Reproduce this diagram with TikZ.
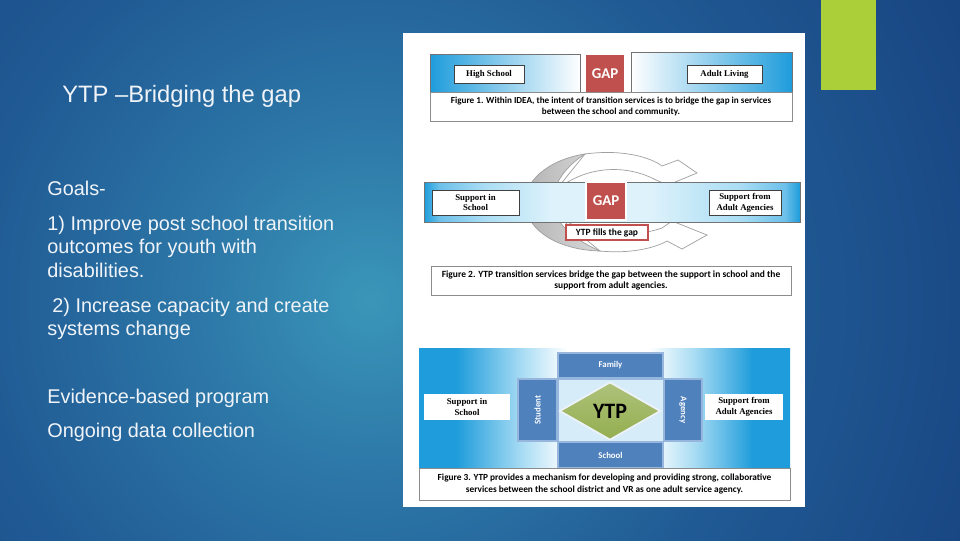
\documentclass[tikz,border=0pt]{standalone}
\usepackage{fontspec}
\setmainfont{Liberation Sans}
\newfontfamily\figsans{Carlito}
\newfontfamily\figserif{Liberation Serif}
\usetikzlibrary{shapes.geometric}

\definecolor{bgglow}{RGB}{58,150,185}
\definecolor{bgsoft}{RGB}{45,120,168}
\definecolor{bgmid}{RGB}{32,90,148}
\definecolor{bgdeep}{RGB}{22,64,126}
\definecolor{bgnavy}{RGB}{14,45,108}
\definecolor{bgdark}{RGB}{10,36,96}
\definecolor{accent}{RGB}{171,207,56}
\definecolor{slidewhite}{RGB}{240,244,248}
\definecolor{barblue}{RGB}{30,156,219}
\definecolor{barmid}{RGB}{108,192,234}
\definecolor{barlight}{RGB}{170,221,244}
\definecolor{barpale}{RGB}{222,242,251}
\definecolor{gapred}{RGB}{192,80,77}
\definecolor{boxblue}{RGB}{79,129,189}
\definecolor{boxedge}{RGB}{150,182,222}
\definecolor{hubfill}{RGB}{214,236,248}
\definecolor{ytpgreen}{RGB}{147,174,79}

\pgfdeclareradialshading{slidebg}{\pgfpoint{0bp}{0bp}}{color(0bp)=(bgglow); color(6bp)=(bgsoft);
  color(14bp)=(bgmid); color(26bp)=(bgdeep); color(40bp)=(bgnavy); color(50bp)=(bgdark)}
\pgfdeclarehorizontalshading{twoside}{100bp}{color(0bp)=(barblue); color(25bp)=(barblue);
  color(27bp)=(barmid); color(33bp)=(barlight); color(42bp)=(barpale); color(55bp)=(barpale);
  color(67bp)=(barlight); color(73bp)=(barmid); color(75bp)=(barblue); color(100bp)=(barblue)}
\pgfdeclarehorizontalshading{hubside}{100bp}{color(0bp)=(barblue); color(25bp)=(barblue);
  color(30bp)=(barblue); color(39bp)=(barlight); color(45bp)=(white); color(56bp)=(white);
  color(62bp)=(barlight); color(70bp)=(barblue); color(75bp)=(barblue); color(100bp)=(barblue)}

\begin{document}
\begin{tikzpicture}[x=0.2mm, y=-0.2mm,
  slidetxt/.style={text=slidewhite, font=\fontsize{11.3}{13.6}\selectfont, inner sep=0pt, anchor=base west},
  lbl/.style={draw=black!75, fill=white, font=\figserif\bfseries\fontsize{5}{6.2}\selectfont,
    align=center, inner sep=0pt},
  capbox/.style={draw=black!45, fill=white, align=center, inner sep=0pt},
  gapbox/.style={fill=gapred, text=white, font=\figsans\bfseries\fontsize{8.5}{9}\selectfont, inner sep=0pt},
  tile/.style={draw=boxedge, line width=0.7pt, fill=boxblue, text=white,
    font=\figsans\bfseries\fontsize{5}{6}\selectfont, inner sep=0pt},
  ringarrow/.style={fill=white, draw=gray!75, line width=0.4pt},
  ringback/.style={left color=gray!60, right color=gray!30, draw=gray!75, line width=0.4pt}]

% slide background
\useasboundingbox (0,0) rectangle (960,540);
\begin{scope}
  \clip (0,0) rectangle (960,540);
  \shade[shading=slidebg] (-330,-400) rectangle (1070,1000);
\end{scope}
\fill[accent] (821,0) rectangle (876,90);

% slide text
\node[slidetxt, font=\fontsize{13.5}{16}\selectfont] (title) at (62,102) {YTP --Bridging the gap};
\node[slidetxt] (goals) at (47,195) {Goals-};
\node[slidetxt] (goalA) at (47,230) {1) Improve post school transition};
\node[slidetxt] (goalB) at (47,253) {outcomes for youth with};
\node[slidetxt] (goalC) at (47,277) {disabilities.};
\node[slidetxt] (goalD) at (52,312) {2) Increase capacity and create};
\node[slidetxt] (goalE) at (47,335) {systems change};
\node[slidetxt] (evid) at (47,403) {Evidence-based program};
\node[slidetxt] (data) at (47,437) {Ongoing data collection};

% white panel with the three figures
\fill[white] (403,33) rectangle (805,507);

% figure 1
\shade[left color=barblue, right color=white, draw=black!55, line width=0.3pt] (430,54) rectangle (580,92);
\shade[left color=white, right color=barblue, draw=black!55, line width=0.3pt] (631,52) rectangle (792,92);
\node[gapbox, minimum width=7.6mm, minimum height=7.4mm] (gap1) at (605,73.5) {GAP};
\node[lbl, minimum width=14mm, minimum height=3.6mm] (hs) at (489,74) {High School};
\node[lbl, minimum width=15mm, minimum height=3.6mm] (al) at (724.5,74) {Adult Living};
\node[capbox, minimum width=72.4mm, minimum height=5.8mm, font=\figsans\bfseries\fontsize{5.2}{6.1}\selectfont]
  (cap1) at (611,106.5)
  {Figure 1. Within IDEA, the intent of transition services is to bridge the gap in services\\
   between the school and community.};

% figure 2: ring of arrows behind the bar
\draw[ringarrow] (585,154) .. controls (622,149) and (650,157) .. (662,166) -- (678,160) -- (697,173)
  -- (668,185) -- (656,180) .. controls (630,166) and (590,163) .. (556,190) -- cycle;
\draw[ringarrow] (600,251) .. controls (630,254) and (655,248) .. (667,241) -- (682,249) -- (707,235)
  -- (672,221) -- (662,228) .. controls (640,236) and (590,240) .. (556,215) -- cycle;
\draw[ringback] (585,154) .. controls (545,160) and (522,185) .. (525,205)
  .. controls (528,232) and (560,250) .. (600,251) .. controls (575,240) and (556,225) .. (553,205)
  .. controls (551,188) and (563,168) .. (585,154) -- cycle;
\shade[shading=twoside, draw=black!55, line width=0.3pt] (424,182) rectangle (800,222);
\node[lbl, minimum width=17.4mm, minimum height=5mm] (sis2) at (475.5,202.5) {Support in\\School};
\node[lbl, minimum width=14.4mm, minimum height=5mm] (saa2) at (745,202.5) {Support from\\Adult Agencies};
\node[gapbox, draw=white, line width=0.8pt, minimum width=8mm, minimum height=7.6mm] (gap2) at (606,201) {GAP};
\node[draw=gapred, line width=0.8pt, fill=white, font=\figsans\bfseries\fontsize{5.4}{6}\selectfont,
  inner sep=0pt, minimum width=16.4mm, minimum height=3mm] (fills) at (607,232.5) {YTP fills the gap};
\node[capbox, minimum width=72mm, minimum height=5.8mm, font=\figsans\bfseries\fontsize{5.4}{6.2}\selectfont]
  (cap2) at (611,280.5)
  {Figure 2. YTP transition services bridge the gap between the support in school and the\\
   support from adult agencies.};

% figure 3
\shade[shading=hubside] (419,348) rectangle (790,468);
\node[lbl, draw=none, minimum width=17.2mm, minimum height=5.2mm] (sis3) at (467,407) {Support in\\School};
\node[lbl, draw=none, minimum width=15.6mm, minimum height=5.2mm] (saa3) at (744,407) {Support from\\Adult Agencies};
\node[draw=boxedge, fill=hubfill, minimum width=21mm, minimum height=12.4mm, inner sep=0pt] (hub) at (610.5,410) {};
\node[tile, minimum width=21mm, minimum height=5mm] (family) at (610.5,365.5) {Family};
\node[tile, minimum width=21mm, minimum height=5.2mm] (school) at (610.5,455) {School};
\node[tile, minimum width=7.8mm, minimum height=12.4mm] (student) at (537.5,410) {};
\node[tile, minimum width=7.6mm, minimum height=12.4mm] (agency) at (683,410) {};
\node[text=white, font=\figsans\bfseries\fontsize{5}{6}\selectfont, rotate=90] at (student) {Student};
\node[text=white, font=\figsans\bfseries\fontsize{5}{6}\selectfont, rotate=-90] at (agency) {Agency};
\node[diamond, draw=white!90!boxblue, line width=1pt, top color=ytpgreen!75!white, bottom color=ytpgreen,
  minimum width=20.2mm, minimum height=11.6mm, inner sep=0pt,
  font=\figsans\bfseries\fontsize{12.5}{12}\selectfont] (ytp) at (610,411) {YTP};
\node[capbox, minimum width=74.2mm, minimum height=6.4mm, font=\figsans\bfseries\fontsize{5.3}{6.8}\selectfont]
  (cap3) at (604.5,484)
  {Figure 3. YTP provides a mechanism for developing and providing strong, collaborative\\
   services between the school district and VR as one adult service agency.};
\end{tikzpicture}
\end{document}
